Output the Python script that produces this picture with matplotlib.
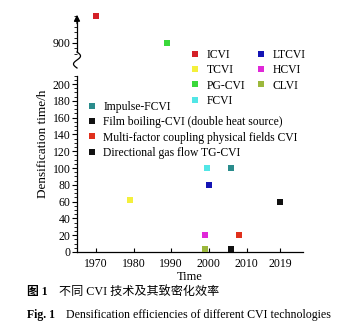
import numpy as np
import matplotlib.pyplot as plt
from matplotlib.lines import Line2D

plt.rcParams['font.family'] = ['Liberation Serif', 'Noto Sans CJK SC']
plt.rcParams['mathtext.fontset'] = 'stix'

# -----------------------------
# データ
# -----------------------------
methods = ["ICVI", "TCVI", "PG-CVI", "FCVI", "LTCVI", "HCVI", "CLVI",
           "Impulse-FCVI", "Film boiling-CVI (double heat source)",
           "Multi-factor coupling physical fields CVI",
           "Directional gas flow TG-CVI"]
years = [1970, 1979, 1989, 1999.5, 2000, 1999, 1999, 2006, 2006, 2008, 2019]
hours = [1000, 62, 900, 100, 80, 20, 4, 100, 4, 20, 60]
colors = ["#d42028", "#f4f03c", "#3ad83a", "#52e6e6", "#1414b4", "#e028d8",
          "#9cb83c", "#2a8c8c", "#111111", "#e0301c", "#111111"]

year_ticks = [1970, 1980, 1990, 2000, 2010, 2019]
hour_ticks = [0, 20, 40, 60, 80, 100, 120, 140, 160, 180, 200, 900]

# -----------------------------
# 折れ軸 (broken axis) のスケール
# -----------------------------
lo_top, hi_bot = 210.0, 860.0
k_hi = 0.32
f_hi0 = 249.0          # position of 900
gap = (f_hi0 + (hi_bot - 900) * k_hi) - lo_top


def fwd(y):
    y = np.asarray(y, dtype=float)
    return np.where(y <= lo_top, y,
                    np.where(y < hi_bot, lo_top + (y - lo_top) * gap / (hi_bot - lo_top),
                             f_hi0 + (y - 900) * k_hi))


def inv(v):
    v = np.asarray(v, dtype=float)
    return np.where(v <= lo_top, v,
                    np.where(v < lo_top + gap, lo_top + (v - lo_top) * (hi_bot - lo_top) / gap,
                             900 + (v - f_hi0) / k_hi))


fig = plt.figure(figsize=(3.44, 3.32), dpi=100)
ax = fig.add_axes([77 / 344, 80 / 332, 226 / 344, 240 / 332])
ax.set_yscale('function', functions=(fwd, inv))
ax.set_xlim(1965, 2025)
ax.set_ylim(0, 1015)

for x, y, c in zip(years, hours, colors):
    ax.scatter(x, y, marker='s', s=18, color=c, edgecolors='none', zorder=3)

ax.set_xticks(year_ticks)
ax.set_yticks(hour_ticks)
minor = list(np.arange(0, 211, 5)) + list(np.arange(860, 1001, 20))
ax.set_yticks(minor, minor=True)
ax.tick_params(axis='y', direction='out', length=3.5, width=0.8, labelsize=8.5, pad=1)
ax.tick_params(axis='y', which='minor', direction='out', length=2, width=0.6)
ax.tick_params(axis='x', direction='in', length=3, width=0.8, labelsize=8.5, pad=4)

for s in ['top', 'right', 'left']:
    ax.spines[s].set_visible(False)
ax.spines['bottom'].set_linewidth(0.9)

# 左軸 + 波線
trans = ax.get_yaxis_transform()
ax.plot([0, 0], [0, lo_top], color='black', lw=0.9, transform=trans, clip_on=False)
y0 = (252 - 68) / 240
y1 = (252 - 52) / 240
t = np.linspace(0, 1, 60)
xs = -np.sin(2 * np.pi * t) * 3.5 / 226
ys = y0 + (y1 - y0) * t
ax.plot(xs, ys, color='black', lw=0.9, transform=ax.transAxes, clip_on=False)
ax.plot([0, 0], [y1, 0.97], color='black', lw=0.9, transform=ax.transAxes, clip_on=False)
ax.annotate('', xy=(0, 1.0), xytext=(0, 0.94), xycoords='axes fraction',
            arrowprops=dict(arrowstyle='-|>', color='black', lw=0.9, mutation_scale=9))

ax.set_ylabel("Densification time/h", fontsize=9.5)
ax.yaxis.set_label_coords(-28 / 226, (252 - 144) / 240)
ax.set_xlabel("Time", fontsize=9, labelpad=1)

# -----------------------------
# 凡例
# -----------------------------
handles = [Line2D([], [], marker='s', ls='none', color=c, markersize=4.2, markeredgewidth=0)
           for c in colors]
leg1 = ax.legend(handles[:7], methods[:7], ncol=2, loc='upper left',
                 bbox_to_anchor=(190 / 344, 1 - 49 / 332), bbox_transform=fig.transFigure,
                 frameon=False, fontsize=8.4, handlelength=0.8, handletextpad=0.6,
                 labelspacing=0.28, columnspacing=1.0, borderpad=0, borderaxespad=0)
ax.add_artist(leg1)
ax.legend(handles[7:], methods[7:], loc='upper left',
          bbox_to_anchor=(87 / 344, 1 - 101 / 332), bbox_transform=fig.transFigure,
          frameon=False, fontsize=8.4, handlelength=0.8, handletextpad=0.6,
          labelspacing=0.28, borderpad=0, borderaxespad=0)

# -----------------------------
# キャプション
# -----------------------------
fig.text(27 / 344, 1 - 292 / 332, "图 1", fontsize=8.5, fontweight='bold', va='center')
fig.text(59 / 344, 1 - 292 / 332, "不同 CVI 技术及其致密化效率", fontsize=8.7, va='center')
fig.text(27 / 344, 1 - 315 / 332, "Fig. 1", fontsize=8.5, fontweight='bold', va='center')
fig.text(66 / 344, 1 - 315 / 332, "Densification efficiencies of different CVI technologies",
         fontsize=8.6, va='center')

fig.savefig("out.png", dpi=100)
